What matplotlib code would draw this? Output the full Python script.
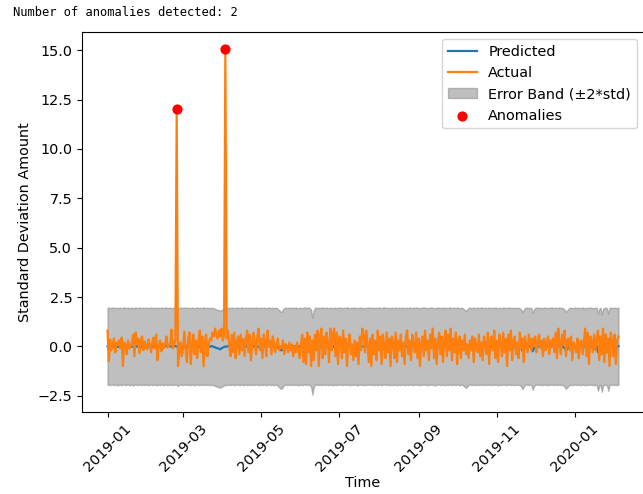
import matplotlib
matplotlib.use("Agg")
import matplotlib.pyplot as plt
import numpy as np
import pandas as pd

# daily series, 2019-01-01 .. 2020-02-04
start_date = "2019-01-01"
n_days = 400

actual = [
    0.8, -0.75, 0.35, -0.2, 0.1, 0.4, -0.3, 0.2, 0.05, 0.3,
    -0.1, 0.45, -1.0, 0.2, 0.1, -0.4, 0.3, -0.1, 0.0, 0.2,
    0.6, -0.5, 0.7, 0.1, 0.4, -0.35, 0.3, 0.5, -0.2, 0.25,
    0.05, -0.15, 0.35, 0.1, -0.3, 0.2, 0.45, -0.1, 0.6, -0.7,
    0.0, 0.3, -0.25, 0.15, -0.1, 0.1, 0.5, -0.05, 0.0, 0.2,
    0.85, -0.1, 0.1, 0.3, 12.0, -1.0, -0.3, 0.2, -0.5, -0.1,
    0.75, -0.2, -0.8, 0.4, 0.7, -0.9, 0.1, 0.6, -0.4, 0.3,
    -0.6, 0.2, 0.8, -0.3, 0.5, -1.0, 0.2, 0.6, -0.5, 0.1,
    0.4, 0.3, 0.7, 0.5, 0.9, 0.6, 0.4, 0.8, 0.5, 0.9,
    0.3, 0.6, 15.05, 0.4, 0.8, 0.1, -0.5, 0.6, -0.3, 0.7,
    -0.6, 0.2, 0.5, -0.4, 0.6, -0.2, 0.4, -0.5, 0.3, 0.8,
    -0.3, 0.6, -0.7, 0.2, 0.7, 0.1, -0.4, 0.5, 0.9, -0.2,
    0.4, -0.6, 0.6, 0.2, -0.5, 0.8, 0.0, 0.3, -0.4, 0.5,
    0.2, -0.3, 0.1, 0.4, -0.2, 0.0, -0.1, 0.3, -0.4, 0.1,
    0.0, -0.3, 0.2, -0.2, 0.1, -0.5, 0.0, -0.3, 0.2, -0.2,
    -0.6, 0.1, 0.6, -0.8, 0.4, -0.9, 0.7, -0.3, 0.5, -1.0,
    0.3, -0.7, 0.6, -0.2, 0.8, -1.0, 0.4, 0.9, -0.6, 0.5,
    -0.4, 0.7, 0.2, -0.8, 0.9, -0.2, 0.6, 0.9, -0.5, 0.7,
    -0.9, 0.5, 0.3, -0.6, 0.8, -0.3, 0.4, -1.0, 0.2, 0.6,
    -0.4, 0.1, -0.7, 0.3, -0.5, 0.2, -0.9, 0.5, -0.2, 0.9,
    0.6, -0.3, 0.8, 0.1, -0.8, 0.4, -1.0, 0.6, -0.4, 0.3,
    -0.7, 0.8, -0.2, 0.5, -0.9, 0.6, 0.1, -0.6, 0.7, -0.3,
    0.4, -1.0, 0.5, 0.2, -0.6, 0.7, -0.8, 0.3, -0.2, 0.6,
    -0.5, 0.2, -0.9, 0.5, 0.8, -0.4, 0.3, -0.7, 0.6, 0.1,
    -0.3, 0.7, -0.6, 0.4, -1.0, 0.2, 0.5, -0.5, 0.8, -0.2,
    0.3, -0.7, 0.6, -0.1, 0.9, -0.6, 0.4, -0.9, 0.2, 0.7,
    -0.4, 0.5, -0.8, 0.3, 0.8, -0.5, 0.6, -0.2, 0.9, -0.7,
    0.4, -0.3, 0.7, -0.9, 0.2, 0.5, -0.6, 0.3, -0.2, 0.6,
    -0.4, 0.1, -0.6, 0.3, -0.2, 0.5, -0.8, 0.4, 0.0, -0.3,
    0.6, -0.5, 0.2, -0.7, 0.5, 0.1, -0.4, 0.7, -0.9, 0.3,
    0.5, -0.2, 0.8, -0.6, 0.3, -0.8, 0.6, 0.2, -0.5, 0.7,
    -0.3, 0.4, -1.0, 0.6, -0.2, 0.8, -0.7, 0.3, 0.5, -0.4,
    0.2, -0.6, 0.7, -0.1, 0.4, -0.8, 0.5, 0.1, -0.3, 0.6,
    0.3, -0.2, 0.4, 0.0, 0.5, -0.3, 0.2, 0.6, -0.1, 0.3,
    -0.5, 0.4, -0.2, 0.1, 0.5, -0.4, 0.3, 0.0, 0.4, -0.3,
    0.7, -0.6, 0.9, 0.2, -0.4, 0.6, 0.1, 0.8, -0.5, 0.3,
    0.4, -0.2, 0.5, -0.7, 0.2, 0.0, -0.3, 0.4, -0.6, 0.1,
    0.3, -0.4, 0.2, 0.9, -0.5, 0.7, -0.9, 0.5, 0.3, -0.3,
    0.6, -0.2, 0.4, 0.8, -0.7, 0.5, -0.4, 0.9, -0.8, 0.6,
    -0.3, 0.4, -1.0, 0.7, 0.2, -0.5, 0.6, -0.9, 0.3, 0.5,
]

predicted = [
    0.0, 0.02, -0.01, 0.0, 0.03, -0.02, 0.0, 0.01, -0.03, 0.02,
    0.0, -0.02, 0.01, 0.03, -0.01, 0.0, 0.02, -0.02, 0.01, 0.0,
    -0.03, 0.01, 0.02, -0.01, 0.0, 0.03, -0.02, 0.0, 0.01, -0.01,
    0.02, 0.0, -0.02, 0.01, 0.03, -0.01, 0.0, 0.02, -0.03, 0.01,
    0.0, -0.01, 0.02, 0.0, -0.02, 0.03, 0.01, -0.01, 0.0, 0.02,
    -0.02, 0.01, 0.0, 0.02, -0.01, -0.05, 0.0, 0.02, -0.01, 0.01,
    0.0, 0.03, -0.02, 0.01, 0.0, -0.01, 0.02, 0.0, -0.03, 0.01,
    0.02, -0.01, 0.0, 0.01, -0.02, 0.03, 0.0, -0.01, 0.02, 0.0,
    -0.02, 0.01, 0.0, -0.03, -0.05, -0.08, -0.1, -0.12, -0.15, -0.1,
    -0.06, -0.03, 0.0, -0.02, 0.01, 0.0, -0.01, 0.02, 0.0, -0.02,
    0.01, 0.0, 0.02, -0.01, 0.0, 0.03, -0.02, 0.0, 0.01, -0.01,
    0.0, 0.02, -0.02, 0.01, 0.0, -0.01, 0.03, 0.0, -0.02, 0.01,
    0.0, -0.01, 0.02, 0.0, -0.03, 0.01, 0.02, -0.01, 0.0, 0.01,
    -0.02, 0.0, 0.01, -0.05, -0.12, -0.18, -0.2, -0.08, 0.0, 0.02,
    -0.01, 0.0, 0.02, -0.02, 0.01, 0.0, -0.01, 0.02, 0.0, -0.03,
    0.01, 0.0, -0.02, 0.01, 0.03, -0.01, 0.0, 0.02, -0.02, -0.1,
    -0.5, -0.12, 0.0, 0.02, -0.01, 0.0, 0.01, -0.02, 0.03, 0.0,
    -0.01, 0.02, 0.0, -0.02, 0.01, 0.0, -0.03, 0.02, 0.0, -0.01,
    0.01, 0.0, 0.02, -0.02, 0.0, 0.01, -0.01, 0.03, 0.0, -0.02,
    0.0, 0.01, -0.01, 0.02, 0.0, -0.03, 0.01, 0.0, 0.02, -0.01,
    0.0, -0.02, 0.01, 0.0, 0.03, -0.01, 0.0, 0.02, -0.02, 0.01,
    0.0, -0.01, 0.02, 0.0, -0.02, 0.01, 0.03, 0.0, -0.01, 0.02,
    -0.02, 0.0, 0.01, -0.01, 0.0, 0.02, -0.03, 0.01, 0.0, -0.01,
    0.02, 0.0, -0.02, 0.01, 0.0, -0.01, 0.03, 0.0, -0.02, 0.01,
    0.0, 0.02, -0.01, 0.0, -0.02, 0.01, 0.0, 0.03, -0.01, 0.0,
    -0.02, 0.01, 0.0, 0.02, -0.01, 0.0, -0.03, 0.01, 0.02, 0.0,
    -0.01, 0.0, 0.02, -0.02, 0.01, 0.0, -0.01, 0.03, 0.0, -0.02,
    0.01, 0.0, -0.01, 0.02, 0.0, -0.02, 0.01, 0.0, -0.05, -0.1,
    -0.15, -0.08, 0.0, 0.02, -0.01, 0.0, 0.01, -0.02, 0.0, 0.02,
    -0.01, 0.0, 0.03, -0.02, 0.0, 0.01, -0.01, 0.0, 0.02, -0.02,
    0.0, 0.01, -0.01, 0.02, 0.0, -0.03, 0.01, 0.0, -0.01, 0.02,
    0.0, -0.02, 0.01, 0.0, 0.02, -0.01, 0.0, 0.01, -0.02, 0.0,
    0.01, 0.0, -0.02, -0.08, -0.22, -0.1, 0.0, 0.02, -0.01, 0.0,
    0.01, -0.02, -0.25, -0.08, 0.0, 0.02, -0.01, 0.0, 0.01, -0.02,
    0.0, 0.02, -0.01, 0.0, -0.02, 0.01, 0.0, 0.02, -0.01, 0.0,
    0.01, -0.02, 0.0, 0.02, -0.01, 0.0, -0.03, -0.1, -0.2, -0.12,
    -0.05, 0.0, 0.01, -0.02, 0.0, 0.02, -0.01, 0.0, 0.01, -0.02,
    0.0, 0.02, -0.01, 0.0, -0.02, 0.01, 0.0, 0.02, -0.01, 0.0,
    -0.02, 0.01, 0.0, -0.3, -0.05, 0.0, -0.35, -0.04, 0.0, 0.01,
    -0.02, -0.3, 0.0, 0.02, -0.01, 0.0, 0.01, -0.02, 0.0, 0.01,
]

std = 0.975
n_anomalies_text = "Number of anomalies detected: 2"

dates = pd.date_range(start_date, periods=n_days, freq="D")
actual = np.array(actual)
predicted = np.array(predicted)
upper = predicted + 2 * std
lower = predicted - 2 * std
is_anom = np.abs(actual - predicted) > 2 * std

plt.rcParams["font.size"] = 10.4

fig = plt.figure(figsize=(6.43, 4.94), dpi=100)
ax = fig.add_axes([82 / 643, 82 / 494, 562 / 643, 380 / 494])

ax.plot(dates, predicted, label="Predicted", lw=1.6)
ax.plot(dates, actual, label="Actual", lw=1.6)
ax.fill_between(dates, lower, upper, color="gray", alpha=0.5, label="Error Band (±2*std)")
ax.scatter(dates[is_anom], actual[is_anom], color="red", s=40, label="Anomalies", zorder=3)

ax.set_xlabel("Time", labelpad=1)
ax.set_ylabel("Standard Deviation Amount")
ax.legend(loc="upper right", labelspacing=0.5)
plt.setp(ax.get_xticklabels(), rotation=45)

fig.text(13 / 643, 1 - 13 / 494, n_anomalies_text, family="DejaVu Sans Mono",
         fontsize=8.7, va="center", ha="left")

fig.savefig("out.png", dpi=100)
